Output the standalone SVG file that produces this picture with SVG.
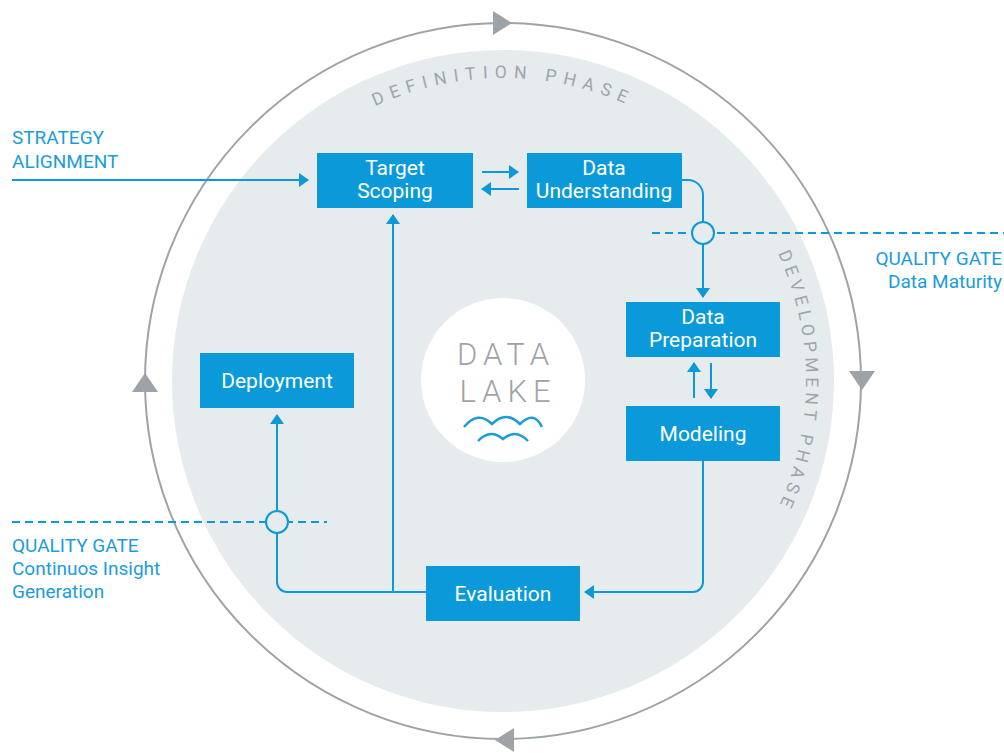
<svg xmlns="http://www.w3.org/2000/svg" width="1004" height="753" viewBox="0 0 1004 753">
  <style>
    .node rect { fill: #0a9ad9; }
    .node text { fill: #ffffff; font-family: Roboto, "Liberation Sans", sans-serif; font-size: 21px; text-anchor: middle; }
    .label { fill: #1a9cdb; font-family: Roboto, "Liberation Sans", sans-serif; font-size: 19px; }
    .phase { fill: #a0a5aa; font-family: Roboto, "Liberation Sans", sans-serif; font-size: 17.5px; letter-spacing: 7px; }
    .phase.dev { letter-spacing: 4.8px; }
    .flow { fill: none; stroke: #0a9ad9; stroke-width: 2; }
    .gate { fill: none; stroke: #0a9ad9; stroke-width: 2; stroke-dasharray: 8 5; }
    .gate-ring { fill: #e6ebed; stroke: #0a9ad9; stroke-width: 2; }
    .ring-head { fill: #9ea3a8; }
  </style>
  <defs>
    <marker id="arrow" viewBox="0 0 10 14" refX="9" refY="7" markerWidth="10" markerHeight="14" markerUnits="userSpaceOnUse" orient="auto">
      <path d="M0,0 L10,7 L0,14 z" fill="#0a9ad9"/>
    </marker>
    <path id="arcTop" d="M200,381 A303,303 0 0 1 806,381"/>
    <path id="arcRight" d="M503,78 A303,303 0 0 1 503,684"/>
  </defs>

  <rect width="1004" height="753" fill="#ffffff"/>

  <!-- lifecycle ring -->
  <g id="cycle">
    <circle cx="503" cy="381" r="331" fill="#e6ebed"/>
    <circle cx="503" cy="381" r="358" fill="none" stroke="#9ea3a8" stroke-width="2"/>
    <polygon class="ring-head" points="493,11 512,23 493,35"/>
    <polygon class="ring-head" points="849,371 875,371 862,390"/>
    <polygon class="ring-head" points="514,728 495,740 514,752"/>
    <polygon class="ring-head" points="132,392 158,392 145,373"/>
    <text class="phase"><textPath href="#arcTop" startOffset="50%" text-anchor="middle">DEFINITION PHASE</textPath></text>
    <text class="phase dev"><textPath href="#arcRight" startOffset="50%" text-anchor="middle">DEVELOPMENT PHASE</textPath></text>
  </g>

  <!-- central data lake -->
  <g id="data-lake">
    <circle cx="503" cy="380" r="82" fill="#ffffff"/>
    <text x="506" y="365" fill="#9ea3a8" font-family="Roboto, 'Liberation Sans', sans-serif" font-weight="300" font-size="31" letter-spacing="6" text-anchor="middle">DATA</text>
    <text x="508" y="402" fill="#9ea3a8" font-family="Roboto, 'Liberation Sans', sans-serif" font-weight="300" font-size="31" letter-spacing="6" text-anchor="middle">LAKE</text>
    <path d="M464,427 Q478,410 492,424 Q506,410 520,424 Q534,410 542,427" fill="none" stroke="#1a9cdb" stroke-width="2.5"/>
    <path d="M478,441 Q490,428 503,439 Q516,428 528,441" fill="none" stroke="#1a9cdb" stroke-width="2.5"/>
  </g>

  <!-- connectors -->
  <g id="connectors">
    <path class="gate" d="M652,233 H1004"/>
    <path class="gate" d="M12,522 H327"/>
    <path class="flow" d="M12,180 H308" marker-end="url(#arrow)"/>
    <path class="flow" d="M482,172 H518" marker-end="url(#arrow)"/>
    <path class="flow" d="M519,189 H482" marker-end="url(#arrow)"/>
    <path class="flow" d="M682,180 H688 A15,15 0 0 1 703,195 V297" marker-end="url(#arrow)"/>
    <path class="flow" d="M694,398 V363" marker-end="url(#arrow)"/>
    <path class="flow" d="M711,363 V398" marker-end="url(#arrow)"/>
    <path class="flow" d="M703,461 V582 A10,10 0 0 1 693,592 H585" marker-end="url(#arrow)"/>
    <path class="flow" d="M426,592 H287 A10,10 0 0 1 277,582 V415" marker-end="url(#arrow)"/>
    <path class="flow" d="M393,592 V215" marker-end="url(#arrow)"/>
    <circle class="gate-ring" cx="703" cy="233" r="11"/>
    <circle class="gate-ring" cx="277" cy="522" r="11"/>
  </g>

  <!-- process steps -->
  <g id="target-scoping" class="node">
    <rect x="317" y="153" width="156" height="55"/>
    <text x="395" y="175">Target</text>
    <text x="395" y="198">Scoping</text>
  </g>
  <g id="data-understanding" class="node">
    <rect x="527" y="153" width="155" height="55"/>
    <text x="604" y="175">Data</text>
    <text x="604" y="198">Understanding</text>
  </g>
  <g id="data-preparation" class="node">
    <rect x="626" y="302" width="154" height="55"/>
    <text x="703" y="324">Data</text>
    <text x="703" y="347">Preparation</text>
  </g>
  <g id="modeling" class="node">
    <rect x="626" y="406" width="154" height="55"/>
    <text x="703" y="441">Modeling</text>
  </g>
  <g id="evaluation" class="node">
    <rect x="426" y="566" width="154" height="55"/>
    <text x="503" y="601">Evaluation</text>
  </g>
  <g id="deployment" class="node">
    <rect x="200" y="353" width="154" height="55"/>
    <text x="277" y="388">Deployment</text>
  </g>

  <!-- side annotations -->
  <g id="strategy-alignment">
    <text class="label" x="12" y="144">STRATEGY</text>
    <text class="label" x="12" y="168">ALIGNMENT</text>
  </g>
  <g id="gate-data-maturity">
    <text class="label" x="1002" y="265" text-anchor="end">QUALITY GATE</text>
    <text class="label" x="1002" y="288" text-anchor="end">Data Maturity</text>
  </g>
  <g id="gate-insight">
    <text class="label" x="12" y="552">QUALITY GATE</text>
    <text class="label" x="12" y="575">Continuos Insight</text>
    <text class="label" x="12" y="598">Generation</text>
  </g>
</svg>
